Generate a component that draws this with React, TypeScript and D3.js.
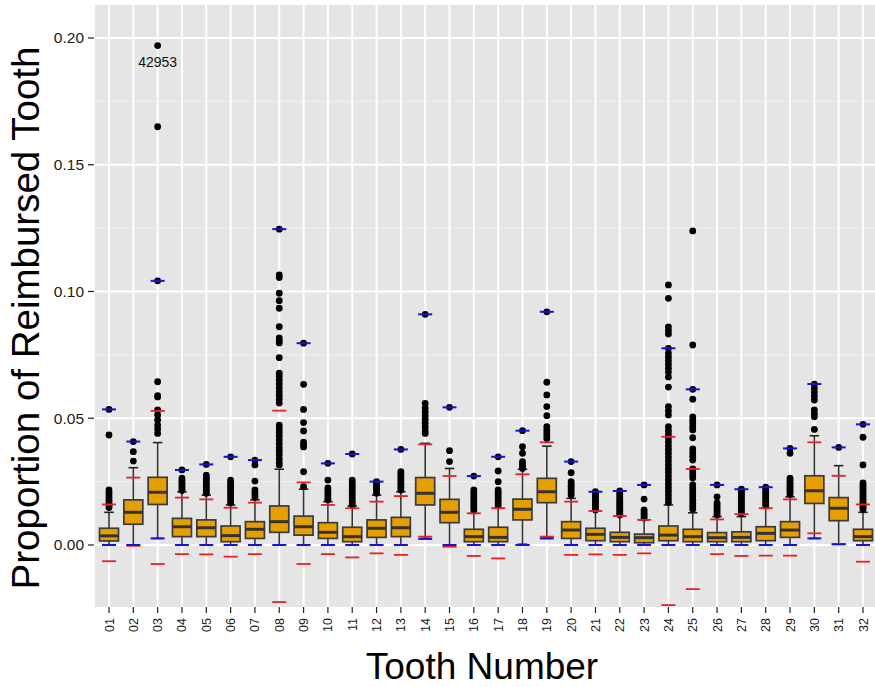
import React from 'react';
import * as d3 from 'd3';

// tooth numbers on the x axis
const teeth = ['01','02','03','04','05','06','07','08','09','10','11','12','13','14','15','16',
  '17','18','19','20','21','22','23','24','25','26','27','28','29','30','31','32'];

// box stats per tooth
const whiskerLo = [0,0,.0026,0,0,0,0,0,0,0,0,0,0,.0026,0,0,0,.0003,.0026,0,0,0,0,0,0,0,0,0,0,.0026,.0003,0];
const q1 = [.0016,.0082,.016,.0033,.0033,.0013,.0026,.005,.0039,.0026,.0013,.003,.0033,.0158,.0088,.0013,
  .0013,.0099,.0167,.0026,.0017,.0013,.0009,.0017,.0013,.0013,.0013,.0017,.003,.0164,.0096,.0017];
const median = [.0036,.0129,.0208,.0072,.0068,.0037,.0062,.0092,.0072,.005,.0033,.0066,.0068,.0204,.0129,.0033,
  .003,.0141,.021,.0059,.0042,.003,.0029,.0039,.0033,.0029,.003,.0046,.0059,.0214,.0145,.0033];
const q3 = [.0066,.0178,.0267,.0105,.0099,.0075,.0092,.0154,.0114,.0088,.007,.0099,.0109,.0266,.018,.0062,
  .007,.0181,.0263,.0092,.0066,.005,.0043,.0075,.0062,.0049,.0052,.0072,.0092,.0273,.0187,.0062];
const whiskerHi = [.0129,.0305,.0404,.021,.0197,.0158,.0178,.0299,.022,.0171,.0154,.0197,.021,.0401,.0302,.0125,
  .0145,.0299,.039,.0184,.0134,.0114,.0099,.0158,.0127,.0112,.0112,.0145,.019,.0431,.0313,.0129];

// blue and red reference marks
const blueHi = [.0535,.0408,.1042,.0296,.0318,.0348,.0335,.1246,.0796,.0322,.0359,.025,.0377,.091,.0543,.0272,
  .0348,.0451,.092,.0329,.021,.0213,.0237,.0776,.0614,.0237,.022,.0228,.0381,.0635,.0385,.0476];
const blueLo = [0,0,.0026,0,0,0,0,0,0,0,0,0,0,.0024,0,0,0,0,.0026,0,0,0,0,0,0,0,0,0,0,.0026,.0003,0];
const redHi = [.016,.0266,.0529,.0187,.018,.0147,.0167,.053,.0247,.0158,.0145,.0171,.0193,.0397,.0272,.0125,
  .0145,.0279,.0405,.0171,.0134,.0114,.0099,.0427,.03,.0101,.0122,.0145,.018,.0405,.0273,.016];
const redLo = [-.0064,-.0003,-.0075,-.0036,-.0037,-.0046,-.0036,-.0225,-.0075,-.0036,-.0049,-.0033,-.0039,.0033,-.0007,-.0043,
  -.0053,0,.0033,-.0039,-.0037,-.0039,-.0033,-.0237,-.0174,-.0036,-.0043,-.0042,-.0042,.0046,.0003,-.0066];

const outliers = [
  [.0535,.0434,.0217,.0207,.0197,.0187,.0177,.0167,.0157,.0148],
  [.0408,.0368,.0331],
  [.197,.165,.1042,.0644,.0589,.0584,.0533,.0513,.0493,.0473,.0458,.044],
  [.0296,.0264,.0255,.0247,.0238,.023,.0222,.0215],
  [.0318,.0276,.0268,.026,.0252,.0244,.0236,.0228,.022,.0212,.0204],
  [.0348,.0256,.0246,.0236,.0226,.0216,.0206,.0196,.0186,.0176,.0166],
  [.0335,.0316,.0252,.0217,.0207,.0198,.0188],
  [.1246,.1065,.1055,.0993,.0964,.0934,.0861,.0817,.0807,.0797,.0739,.0678,.0665,.065,.0635,.062,.0605,.059,.0575,.056,
    .0473,.046,.0445,.043,.0415,.04,.0385,.037,.0355,.034,.0325,.0316],
  [.0796,.0634,.0535,.0483,.045,.0406,.0396,.0387,.0289,.023],
  [.0322,.0256,.0225,.0215,.0205,.0195,.0185,.0178],
  [.0359,.0256,.0246,.0236,.0226,.0216,.0206,.0196,.0186,.0176,.0166,.0158],
  [.025,.0243,.0235,.0227,.022,.0212,.0204],
  [.0377,.0289,.028,.0271,.0262,.0253,.0244,.0235,.0226,.0217],
  [.091,.0559,.054,.0525,.051,.0495,.048,.0465,.045,.044],
  [.0543,.0372,.0329],
  [.0272,.0217,.0207,.0197,.0187,.0177,.0167,.0157,.0147,.0137],
  [.0348,.0292,.025,.0217,.0207,.0197,.0187,.0177,.0167,.0157],
  [.0451,.0388,.0362,.0329,.032,.0311,.0302],
  [.092,.0642,.0592,.0546,.051,.0467,.0455,.0443,.0431,.042],
  [.0329,.0285,.025,.0241,.0232,.0223,.0214,.0205,.0197],
  [.021,.0202,.0194,.0186,.0178,.017,.0162,.0154,.0146,.0138],
  [.0213,.0205,.0197,.0189,.0181,.0173,.0165,.0157,.0149,.0141,.0133,.0125,.0118],
  [.0237,.0181,.0138,.013,.0122,.0114,.0107],
  [.1026,.0973,.086,.0846,.0832,.0776,.0757,.0742,.0727,.0712,.0697,.0682,.0663,.0623,.0546,.053,.0513,
    .0467,.0452,.0437,.0422,.0407,.0392,.0377,.0362,.0347,.0332,.0317,.0302,.0287,.0272,.0257,.0242,.0227,.0212,.0197,.0182,.0168],
  [.1239,.0789,.0614,.0575,.0505,.0492,.0479,.0466,.0454,.0423,.0379,.0364,.035,.0335,.03,.0288,.0276,.0264,
    .0237,.0225,.0213,.0201,.0189,.0177,.0165,.0153,.0141],
  [.0237,.019,.0166,.0158,.015,.0142,.0134,.0126,.0118],
  [.022,.0212,.0204,.0196,.0188,.018,.0172,.0164,.0156,.0148,.014,.0132,.0124],
  [.0228,.022,.0212,.0204,.0196,.0188,.018,.0172,.0164,.0156],
  [.0381,.0362,.0264,.0256,.0248,.024,.0232,.0224,.0216,.0208,.02],
  [.0635,.0619,.0604,.0588,.0572,.0533,.0519,.0506,.0456],
  [.0385],
  [.0476,.0425,.0316,.0245,.0237,.0229,.0221,.0213,.0205,.0197,.0189,.0181,.0173,.0165,.0157,.0149,.0141],
];

const yTicks = [0, 0.05, 0.1, 0.15, 0.2];
const yMinor = [0.025, 0.075, 0.125, 0.175];
const labelTooth = '03';
const labelValue = 0.197;
const labelText = '42953';

const W = 875;
const H = 687;
const panel = { left: 95, right: 876, top: 5, bottom: 607 };

export default function App() {
  const x = d3.scalePoint<string>().domain(teeth).range([109, 863]);
  const y = d3.scaleLinear().domain([0, 0.2]).range([545, 38]);
  const step = x.step();
  const boxW = step * 0.78;
  const capW = boxW * 0.5;
  const markW = 14;
  const font = 'Liberation Sans, Arial, sans-serif';

  return (
    <svg width={W} height={H} style={{ position: 'absolute', left: 0, top: 0, background: '#fff' }}>
      <rect x={panel.left} y={panel.top} width={panel.right - panel.left} height={panel.bottom - panel.top} fill="#E5E5E5" />
      {yMinor.map(v => (
        <line key={'mn' + v} x1={panel.left} x2={panel.right} y1={y(v)} y2={y(v)} stroke="#F2F2F2" strokeWidth={1} />
      ))}
      {yTicks.map(v => (
        <line key={'mj' + v} x1={panel.left} x2={panel.right} y1={y(v)} y2={y(v)} stroke="#fff" strokeWidth={2} />
      ))}
      {teeth.map(t => (
        <line key={'vx' + t} x1={x(t)} x2={x(t)} y1={panel.top} y2={panel.bottom} stroke="#fff" strokeWidth={2} />
      ))}

      {teeth.map((t, i) => {
        const cx = x(t)!;
        return (
          <g key={'box' + t}>
            <line x1={cx} x2={cx} y1={y(q3[i])} y2={y(whiskerHi[i])} stroke="#333" strokeWidth={1.6} />
            <line x1={cx} x2={cx} y1={y(q1[i])} y2={y(whiskerLo[i])} stroke="#333" strokeWidth={1.6} />
            <line x1={cx - capW / 2} x2={cx + capW / 2} y1={y(whiskerHi[i])} y2={y(whiskerHi[i])} stroke="#222" strokeWidth={1.6} />
            <line x1={cx - capW / 2} x2={cx + capW / 2} y1={y(whiskerLo[i])} y2={y(whiskerLo[i])} stroke="#222" strokeWidth={1.6} />
            <rect x={cx - boxW / 2} y={y(q3[i])} width={boxW} height={y(q1[i]) - y(q3[i])}
              fill="#E69F00" stroke="#3a3a3a" strokeWidth={1.7} />
            <line x1={cx - boxW / 2} x2={cx + boxW / 2} y1={y(median[i])} y2={y(median[i])} stroke="#333" strokeWidth={3} />
            {outliers[i].map((v, j) => (
              <circle key={j} cx={cx} cy={y(v)} r={3.4} fill="#000" />
            ))}
          </g>
        );
      })}

      {teeth.map((t, i) => {
        const cx = x(t)!;
        return (
          <g key={'mk' + t}>
            <line x1={cx - markW / 2} x2={cx + markW / 2} y1={y(redHi[i])} y2={y(redHi[i])} stroke="#E8202A" strokeWidth={1.8} />
            <line x1={cx - markW / 2} x2={cx + markW / 2} y1={y(redLo[i])} y2={y(redLo[i])} stroke="#E8202A" strokeWidth={1.8} />
            <line x1={cx - markW / 2} x2={cx + markW / 2} y1={y(blueHi[i])} y2={y(blueHi[i])} stroke="#1414D2" strokeWidth={2} />
            <line x1={cx - markW / 2} x2={cx + markW / 2} y1={y(blueLo[i])} y2={y(blueLo[i])} stroke="#1414D2" strokeWidth={2} />
          </g>
        );
      })}

      <text x={x(labelTooth)} y={y(labelValue) + 21} textAnchor="middle" fontFamily={font} fontSize={14} fill="#111">{labelText}</text>

      {yTicks.map(v => (
        <g key={'yt' + v}>
          <line x1={88} x2={94} y1={y(v)} y2={y(v)} stroke="#222" strokeWidth={1.2} />
          <text x={84} y={y(v)} dy="0.35em" textAnchor="end" fontFamily={font} fontSize={15.5} fill="#1a1a1a">{v.toFixed(2)}</text>
        </g>
      ))}
      {teeth.map(t => (
        <g key={'xt' + t}>
          <line x1={x(t)} x2={x(t)} y1={panel.bottom} y2={panel.bottom + 6} stroke="#222" strokeWidth={1.2} />
          <text transform={`translate(${x(t)! + 4.5},${panel.bottom + 11}) rotate(-90)`} textAnchor="end"
            fontFamily={font} fontSize={12.5} fill="#1a1a1a">{t}</text>
        </g>
      ))}

      <text x={482} y={679} textAnchor="middle" fontFamily={font} fontSize={37} fill="#000">Tooth Number</text>
      <text transform={`translate(39,318) rotate(-90)`} textAnchor="middle" fontFamily={font} fontSize={38.5} fill="#000">
        Proportion of Reimbursed Tooth
      </text>
    </svg>
  );
}
